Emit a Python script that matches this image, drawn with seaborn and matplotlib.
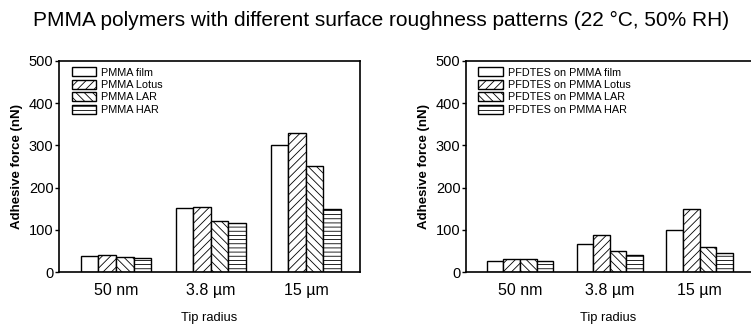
import matplotlib
matplotlib.use("Agg")
import matplotlib.pyplot as plt
import seaborn as sns
import pandas as pd

categories = ["50 nm", "3.8 µm", "15 µm"]
left_series = ["PMMA film", "PMMA Lotus", "PMMA LAR", "PMMA HAR"]
left_values = [
    [37, 152, 300],
    [40, 155, 330],
    [35, 120, 250],
    [32, 115, 150],
]
right_series = ["PFDTES on PMMA film", "PFDTES on PMMA Lotus", "PFDTES on PMMA LAR", "PFDTES on PMMA HAR"]
right_values = [
    [27, 67, 100],
    [30, 88, 150],
    [30, 50, 60],
    [27, 40, 45],
]
hatches = ["", "////", "\\\\\\\\", "----"]

sns.set_theme(style="white")
plt.rcParams["font.family"] = ["Liberation Sans", "DejaVu Sans"]
plt.rcParams["hatch.linewidth"] = 0.6
for k in ["text.color", "axes.labelcolor", "xtick.color", "ytick.color"]:
    plt.rcParams[k] = "black"

fig = plt.figure(figsize=(7.51, 3.25), dpi=100)
W, H = 751, 325
ax1 = fig.add_axes([59 / W, 1 - 272 / H, (360 - 59) / W, (272 - 61) / H])
ax2 = fig.add_axes([466 / W, 1 - 272 / H, (751 - 466) / W, (272 - 61) / H])


def make_df(series, values):
    rows = []
    for s, vals in zip(series, values):
        for c, v in zip(categories, vals):
            rows.append({"cat": c, "series": s, "val": v})
    return pd.DataFrame(rows)


def draw(ax, series, values, right_open=False):
    df = make_df(series, values)
    sns.barplot(data=df, x="cat", y="val", hue="series", order=categories,
                hue_order=series, ax=ax, width=0.74, gap=0,
                palette=["white"] * 4, edgecolor="black", linewidth=1.0,
                legend=False)
    handles = []
    for cont, h, s in zip(ax.containers, hatches, series):
        for p in cont.patches:
            p.set_hatch(h)
            p.set_facecolor("white")
            p.set_edgecolor("black")
        handles.append(plt.Rectangle((0, 0), 1, 1, facecolor="white",
                                     edgecolor="black", hatch=h, linewidth=1.0, label=s))
    ax.set_xlim(-0.6, 2.57)
    ax.set_ylim(0, 500)
    ax.set_yticks([0, 100, 200, 300, 400, 500])
    ax.tick_params(axis="y", direction="out", length=3, width=1, labelsize=10.5, pad=1, left=True)
    ax.tick_params(axis="x", length=0, labelsize=11.5, pad=8)
    ax.set_xlabel("Tip radius", fontsize=9.3, labelpad=10)
    ax.set_ylabel("Adhesive force (nN)", fontsize=9.5, fontweight="bold", labelpad=4)
    for sp in ax.spines.values():
        sp.set_linewidth(1.2)
        sp.set_color("black")
    if right_open:
        ax.spines["right"].set_visible(False)
    ax.legend(handles=handles, loc="upper left", bbox_to_anchor=(0.02, 1.0),
              frameon=False, fontsize=7.8, handlelength=2.25, handleheight=0.85,
              labelspacing=0.22, handletextpad=0.5, borderaxespad=0.2)


draw(ax1, left_series, left_values)
draw(ax2, right_series, right_values, right_open=True)

fig.text(0.508, 1 - 20 / H, "PMMA polymers with different surface roughness patterns (22 °C, 50% RH)",
         ha="center", va="center", fontsize=15)

fig.savefig("out.png", dpi=100)
